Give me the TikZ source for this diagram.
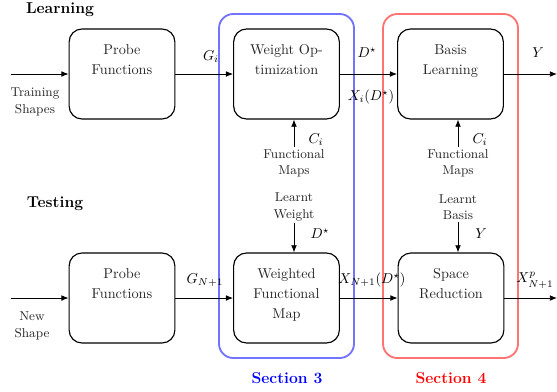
\documentclass[tikz,border=0pt]{standalone}
\usetikzlibrary{arrows.meta}
\begin{document}
\begin{tikzpicture}[x=0.7pt,y=-0.7pt,
  block/.style={draw, line width=0.8pt, rounded corners=9pt, minimum width=74pt, minimum height=63pt, inner sep=0pt},
  blocktext/.style={anchor=north, align=center, inner sep=0pt, font=\fontsize{10}{14}\selectfont, text=black!85},
  lbl/.style={align=center, inner sep=1.5pt, font=\fontsize{9}{11.5}\selectfont, text=black!85},
  mlbl/.style={inner sep=0pt},
  arr/.style={-{Latex[length=5pt,width=4pt]}, line width=0.6pt},
  secframe/.style={line width=1.3pt, rounded corners=10pt},
  head/.style={font=\fontsize{11}{13}\selectfont\bfseries, inner sep=0pt},
  ]
\useasboundingbox (0,0) rectangle (557,391);

% section frames
\draw[secframe, blue!55] (219,14) rectangle (354,358);
\draw[secframe, red!55] (383,14) rectangle (518,358);
\node[head, text=blue] (s3) at (287,378) {Section 3};
\node[head, text=red] (s4) at (451,378) {Section 4};

% headings
\node[head] (learn) at (60,10) {Learning};
\node[head] (test) at (55,204) {Testing};

% top row blocks
\node[block] (pf1) at (122,74) {};
\node[block] (wo) at (286.5,74) {};
\node[block] (bl) at (450.5,74) {};
\node[blocktext] (pf1t) at (122,44) {Probe\\Functions};
\node[blocktext] (wot) at (286.5,44) {Weight Op-\\timization};
\node[blocktext] (blt) at (450.5,44) {Basis\\Learning};

% bottom row blocks
\node[block] (pf2) at (122,298) {};
\node[block] (wfm) at (286.5,298) {};
\node[block] (sr) at (451,298) {};
\node[blocktext] (pf2t) at (122,268) {Probe\\Functions};
\node[blocktext] (wfmt) at (286.5,268) {Weighted\\Functional\\Map};
\node[blocktext] (srt) at (451,268) {Space\\Reduction};

% inputs / outputs
\coordinate (in1) at (11,74);
\coordinate (out1) at (557,74);
\coordinate (in2) at (11,298);
\coordinate (out2) at (557,298);

\draw[arr] (in1) -- (pf1);
\draw[arr] (pf1) -- (wo);
\draw[arr] (wo) -- (bl);
\draw[arr] (bl) -- (out1);

\draw[arr] (in2) -- (pf2);
\draw[arr] (pf2) -- (wfm);
\draw[arr] (wfm) -- (sr);
\draw[arr] (sr) -- (out2);

% side labels
\node[lbl] (ts) at (35,102) {Training\\Shapes};
\node[lbl] (ns) at (32,326) {New\\Shape};

% edge labels
\node[mlbl] (gi) at (211,57) {$G_i$};
\node[mlbl] (ds1) at (367,53) {$D^{\star}$};
\node[mlbl] (xi) at (371,97) {$X_i(D^{\star})$};
\node[mlbl] (y1) at (538,53) {$Y$};
\node[mlbl] (gn) at (205,280) {$G_{N+1}$};
\node[mlbl] (xn) at (372,280) {$X_{N+1}(D^{\star})$};
\node[mlbl] (xp) at (535,280) {$X^{p}_{N+1}$};

% vertical connectors section 3
\node[lbl] (fm1) at (294,163) {Functional\\Maps};
\node[lbl] (lw) at (294,207) {Learnt\\Weight};
\draw[arr] (fm1.north) -- (fm1.north |- wo.south);
\draw[arr] (lw.south) -- (lw.south |- wfm.north);
\node[mlbl] (ci1) at (316,140) {$C_i$};
\node[mlbl] (ds2) at (320,234) {$D^{\star}$};

% vertical connectors section 4
\node[lbl] (fm2) at (458,163) {Functional\\Maps};
\node[lbl] (lb) at (458,207) {Learnt\\Basis};
\draw[arr] (fm2.north) -- (fm2.north |- bl.south);
\draw[arr] (lb.south) -- (lb.south |- sr.north);
\node[mlbl] (ci2) at (480,140) {$C_i$};
\node[mlbl] (y2) at (481,234) {$Y$};
\end{tikzpicture}
\end{document}
